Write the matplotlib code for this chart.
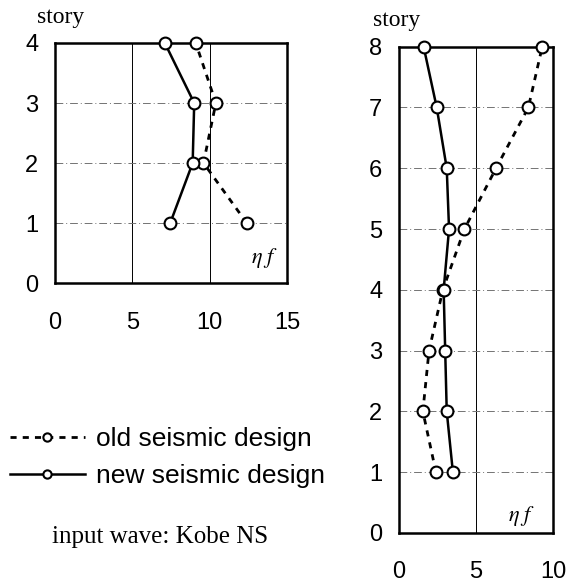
import matplotlib
matplotlib.use('Agg')
import matplotlib.pyplot as plt
import numpy as np

# 4-story building (left panel)
stories4 = [1, 2, 3, 4]
old4 = [12.4, 9.6, 10.4, 9.1]
new4 = [7.45, 8.9, 9.0, 7.1]

# 8-story building (right panel)
stories8 = [1, 2, 3, 4, 5, 6, 7, 8]
old8 = [2.4, 1.55, 1.95, 2.85, 4.25, 6.3, 8.4, 9.3]
new8 = [3.5, 3.1, 3.0, 2.9, 3.25, 3.1, 2.45, 1.6]

serif = 'Liberation Serif'
sans = 'Liberation Sans'

fig = plt.figure(figsize=(5.69, 5.85), dpi=100)
ax1 = fig.add_axes([0.0967, 0.5162, 0.4077, 0.4103])
ax2 = fig.add_axes([0.7012, 0.0889, 0.2707, 0.8313])


def style(ax, xmax, ymax, xticks, xgrid, xpad, story_xy, eta_xy):
    ax.set_xlim(0, xmax)
    ax.set_ylim(0, ymax)
    ax.set_xticks(xticks)
    ax.set_yticks(range(ymax + 1))
    for x in xgrid:
        ax.axvline(x, color='black', lw=0.7, zorder=1)
    for y in range(1, ymax):
        ax.axhline(y, color='0.45', lw=0.7, ls=(0, (8, 3, 1, 3)), zorder=1)
    for s in ax.spines.values():
        s.set_linewidth(1.8)
    ax.tick_params(length=0, labelsize=17)
    ax.tick_params(axis='y', pad=12)
    ax.tick_params(axis='x', pad=xpad)
    for lab in ax.get_xticklabels() + ax.get_yticklabels():
        lab.set_fontfamily(sans)
    ax.text(story_xy[0], story_xy[1], 'story', transform=ax.transAxes,
            family=serif, fontsize=17, ha='left', va='center')
    ax.text(eta_xy[0], eta_xy[1], r'$\eta\ f$', transform=ax.transAxes,
            fontsize=16, ha='right', va='center', math_fontfamily='stix')


def draw(ax, old, new, st):
    l1, = ax.plot(old, st, color='black', lw=2.0, ls=(0, (2.2, 2.2)),
                  marker='o', ms=8.5, mfc='white', mec='black', mew=1.5,
                  label='old seismic design', zorder=3, clip_on=False)
    l2, = ax.plot(new, st, color='black', lw=1.8, ls='-',
                  marker='o', ms=8.5, mfc='white', mec='black', mew=1.5,
                  label='new seismic design', zorder=4, clip_on=False)
    return l1, l2


style(ax1, 15, 4, [0, 5, 10, 15], [5, 10], 21, (-0.078, 1.105), (0.961, 0.104))
style(ax2, 10, 8, [0, 5, 10], [5], 20, (-0.169, 1.054), (0.885, 0.035))
h1, h2 = draw(ax1, old4, new4, stories4)
draw(ax2, old8, new8, stories8)

fig.legend(handles=[h1, h2], loc='center left',
           bbox_to_anchor=(0.017, 0.218), frameon=False,
           prop={'family': sans, 'size': 19}, handlelength=2.85,
           handletextpad=0.42, labelspacing=0.48, markerscale=0.7,
           numpoints=1, borderaxespad=0, borderpad=0)

fig.text(0.092, 0.082, 'input wave: Kobe NS', family=serif, fontsize=18,
         ha='left', va='center')

fig.savefig('out.png', dpi=100)
